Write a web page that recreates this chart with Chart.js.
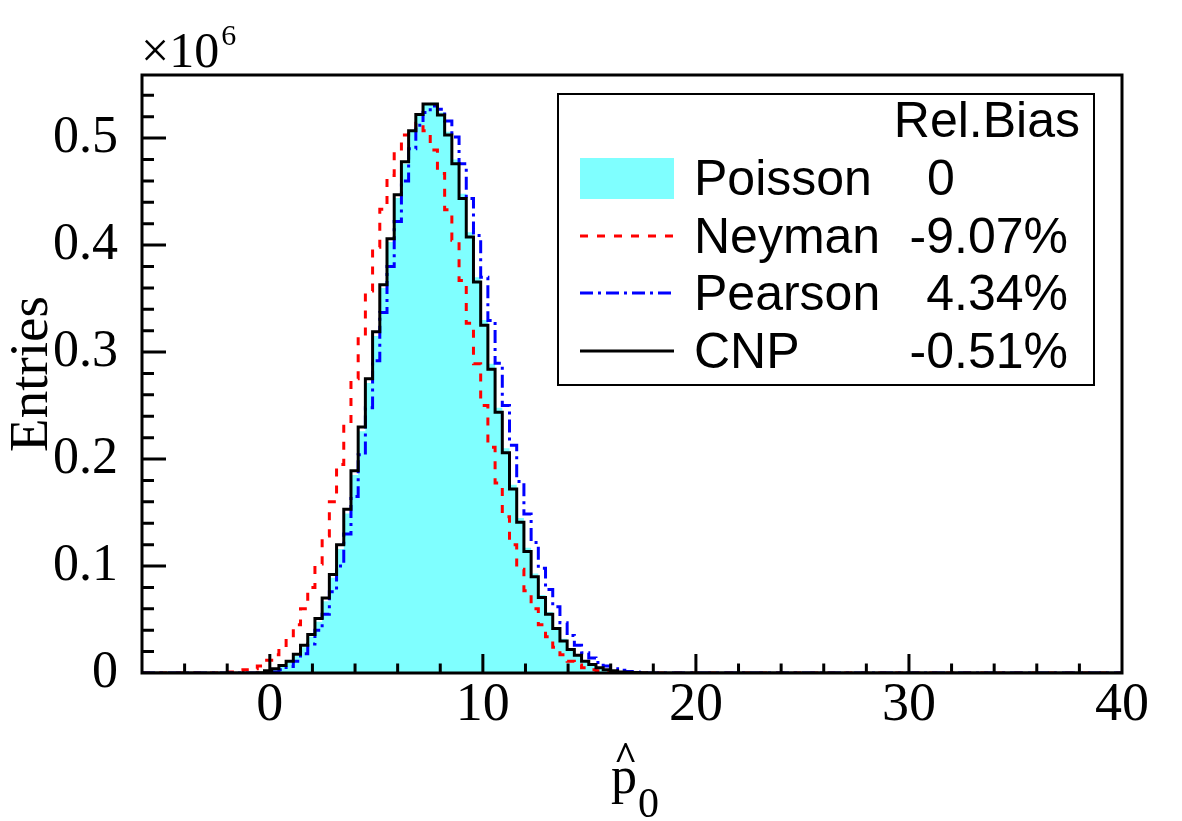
<!DOCTYPE html>
<html>
<head>
<meta charset="utf-8">
<title>p0 estimators</title>
<script src="https://cdn.jsdelivr.net/npm/chart.js@4.4.1/dist/chart.umd.min.js"></script>
<style>
  html, body { margin: 0; padding: 0; background: #fff; }
  #wrap { width: 1182px; height: 821px; }
</style>
</head>
<body>
<div id="wrap"><canvas id="histo" width="1182" height="821"></canvas></div>
<script>
// binning of the histograms (136 bins between -6 and 40)
const xMin = -6, xMax = 40, nBins = 136;
const firstBin = 13; // bin index of the first value in the lists below

// entries per bin, in units of 10^6
const poisson = [0, 0, 0, 0, 0.0002, 0.0015, 0.0035, 0.006, 0.010, 0.016, 0.024, 0.034, 0.048, 0.067, 0.089,
  0.116, 0.149, 0.185, 0.226, 0.271, 0.315, 0.360, 0.403, 0.444, 0.476, 0.506, 0.522, 0.532, 0.533, 0.524,
  0.506, 0.480, 0.448, 0.412, 0.370, 0.330, 0.289, 0.248, 0.210, 0.176, 0.145, 0.117, 0.093, 0.073, 0.057,
  0.043, 0.032, 0.023, 0.017, 0.012, 0.0085, 0.0055, 0.0035, 0.002, 0.0012, 0.0008, 0.0004, 0.0002];
const neyman = [0.001, 0.002, 0.003, 0.004, 0.0065, 0.012, 0.017, 0.024, 0.033, 0.045, 0.060, 0.080, 0.102, 0.128, 0.160,
  0.195, 0.233, 0.275, 0.3155, 0.357, 0.398, 0.4335, 0.465, 0.487, 0.503, 0.507, 0.514, 0.507, 0.489, 0.467,
  0.433, 0.4045, 0.367, 0.327, 0.289, 0.250, 0.211, 0.1775, 0.146, 0.120, 0.097, 0.077, 0.060, 0.045, 0.034,
  0.024, 0.017, 0.011, 0.0075, 0.005, 0.003, 0.002, 0.001, 0.0005, 0, 0, 0, 0];
const pearson = [0, 0, 0, 0, 0, 0.0005, 0.001, 0.003, 0.006, 0.011, 0.018, 0.027, 0.040, 0.055, 0.076,
  0.100, 0.130, 0.165, 0.204, 0.248, 0.292, 0.337, 0.380, 0.422, 0.460, 0.490, 0.512, 0.524, 0.530, 0.527,
  0.516, 0.501, 0.476, 0.4435, 0.409, 0.370, 0.3296, 0.2896, 0.250, 0.213, 0.179, 0.1486, 0.122, 0.098, 0.078,
  0.062, 0.047, 0.035, 0.026, 0.019, 0.014, 0.0097, 0.0065, 0.004, 0.0025, 0.0015, 0.001, 0.0005];
const cnp = [0, 0, 0, 0, 0.0003, 0.002, 0.004, 0.007, 0.011, 0.0175, 0.026, 0.036, 0.051, 0.070, 0.092,
  0.120, 0.153, 0.189, 0.230, 0.275, 0.319, 0.363, 0.406, 0.447, 0.478, 0.507, 0.522, 0.532, 0.532, 0.5215,
  0.503, 0.476, 0.4435, 0.4076, 0.3655, 0.325, 0.284, 0.2437, 0.206, 0.172, 0.141, 0.1136, 0.090, 0.0705, 0.055,
  0.0415, 0.030, 0.022, 0.0165, 0.011, 0.008, 0.005, 0.003, 0.002, 0.001, 0.0007, 0.0004, 0.0002];

const xTicks = [0, 10, 20, 30, 40];
const xTickLabels = ['0', '10', '20', '30', '40'];
const yTicks = [0, 0.1, 0.2, 0.3, 0.4, 0.5];
const yTickLabels = ['0', '0.1', '0.2', '0.3', '0.4', '0.5'];
const yMax = 0.559;

const seriesNames = ['Poisson', 'Neyman', 'Pearson', 'CNP'];
const relBias = ['0', '-9.07%', '4.34%', '-0.51%'];

const serif = '"Liberation Serif", "Times New Roman", serif';
const sans = '"Liberation Sans", Arial, sans-serif';

// bin contents -> step points at the left edge of every bin
const binW = (xMax - xMin) / nBins;
const toSteps = vals => {
    const pts = [];
    for (let k = 0; k <= nBins; k++) {
        const i = k - firstBin;
        pts.push({ x: xMin + k * binW, y: (i >= 0 && i < vals.length) ? vals[i] : 0 });
    }
    return pts;
};

const histLine = (label, vals, color, dash, order) => ({
    label, data: toSteps(vals), borderColor: color, borderWidth: 3, borderDash: dash,
    stepped: 'after', pointRadius: 0, fill: false, order
});

// ROOT-like frame, inner ticks, exponent, x title and legend
const rootFrame = {
    id: 'rootFrame',
    afterDatasetsDraw(chart) {
        const { ctx, chartArea: a, scales: { x, y } } = chart;
        ctx.save();
        ctx.strokeStyle = '#000';
        ctx.lineWidth = 3;
        ctx.beginPath();
        for (let v = -4; v < 40; v += 2) {
            const px = x.getPixelForValue(v);
            const len = v % 10 === 0 ? 19 : 9.5;
            ctx.moveTo(px, a.bottom);
            ctx.lineTo(px, a.bottom - len);
        }
        for (let i = 1; i * 0.02 < yMax; i++) {
            const py = y.getPixelForValue(i * 0.02);
            const len = i % 5 === 0 ? 24 : 12;
            ctx.moveTo(a.left, py);
            ctx.lineTo(a.left + len, py);
        }
        ctx.stroke();
        ctx.strokeRect(a.left, a.top, a.right - a.left, a.bottom - a.top);
        ctx.restore();
    },
    afterDraw(chart) {
        const { ctx, chartArea: a } = chart;
        ctx.save();
        ctx.fillStyle = '#000';
        ctx.textBaseline = 'alphabetic';

        // x10^6 above the y axis
        ctx.textAlign = 'left';
        ctx.font = '50px ' + serif;
        ctx.fillText('\u00d710', a.left - 1, 67);
        const w = ctx.measureText('\u00d710').width;
        ctx.font = '30px ' + serif;
        ctx.fillText('6', a.left + w + 1, 45);

        // x title: p hat, subscript 0
        ctx.font = '52px ' + serif;
        ctx.fillText('p', 611, 793);
        ctx.font = 'bold 40px ' + serif;
        ctx.fillText('^', 614, 770);
        ctx.font = '42px ' + serif;
        ctx.fillText('0', 638, 817);

        // legend box
        ctx.fillStyle = '#fff';
        ctx.fillRect(558, 94, 536, 291);
        ctx.strokeStyle = '#000';
        ctx.lineWidth = 2;
        ctx.strokeRect(558, 94, 536, 291);
        ctx.fillStyle = '#000';
        ctx.font = '50px ' + sans;
        ctx.textAlign = 'right';
        ctx.fillText('Rel.Bias', 1080, 137);

        const rowY = [195, 253, 310, 368];
        const sets = chart.data.datasets;
        seriesNames.forEach((name, i) => {
            const ds = sets.find(d => d.label === name);
            const base = rowY[i];
            const mid = base - 17;
            if (ds.fill) {
                ctx.fillStyle = ds.backgroundColor;
                ctx.fillRect(580, mid - 20, 94, 41);
            } else {
                ctx.strokeStyle = ds.borderColor;
                ctx.lineWidth = 3;
                ctx.setLineDash(ds.borderDash || []);
                ctx.beginPath();
                ctx.moveTo(580, mid);
                ctx.lineTo(674, mid);
                ctx.stroke();
                ctx.setLineDash([]);
            }
            ctx.fillStyle = '#000';
            ctx.textAlign = 'left';
            ctx.fillText(name, 694, base);
            if (relBias[i].endsWith('%')) {
                ctx.textAlign = 'right';
                ctx.fillText(relBias[i], 1068, base);
            } else {
                ctx.textAlign = 'center';
                ctx.fillText(relBias[i], 941, base);
            }
        });
        ctx.restore();
    }
};

new Chart(document.getElementById('histo'), {
    type: 'line',
    data: {
        datasets: [
            histLine('CNP', cnp, '#000000', [], 0),
            histLine('Pearson', pearson, '#0000ff', [13, 5, 3, 5], 1),
            histLine('Neyman', neyman, '#ff0000', [8, 9], 2),
            {
                label: 'Poisson', data: toSteps(poisson), borderWidth: 0, borderColor: 'rgba(0,0,0,0)',
                backgroundColor: '#7fffff', fill: 'origin', stepped: 'after', pointRadius: 0, order: 3
            }
        ]
    },
    options: {
        responsive: false,
        animation: false,
        devicePixelRatio: 1,
        layout: { padding: { top: 75, right: 60, left: 0, bottom: 0 } },
        plugins: { legend: { display: false }, tooltip: { enabled: false } },
        scales: {
            x: {
                type: 'linear', min: xMin, max: xMax,
                grid: { display: false }, border: { display: false },
                afterBuildTicks: s => { s.ticks = xTicks.map(v => ({ value: v })); },
                afterFit: s => { s.height = 148; },
                ticks: {
                    color: '#000', font: { family: serif, size: 54 }, padding: -8,
                    maxRotation: 0, autoSkip: false,
                    callback: v => xTickLabels[xTicks.indexOf(v)]
                }
            },
            y: {
                min: 0, max: yMax,
                grid: { display: false }, border: { display: false },
                afterBuildTicks: s => { s.ticks = yTicks.map(v => ({ value: v })); },
                afterFit: s => { s.width = 142; },
                ticks: {
                    color: '#000', font: { family: serif, size: 52 }, padding: 16,
                    callback: v => yTickLabels[yTicks.indexOf(v)]
                },
                title: { display: true, text: 'Entries', color: '#000', font: { family: serif, size: 55 }, padding: 0 }
            }
        }
    },
    plugins: [rootFrame]
});
</script>
</body>
</html>
